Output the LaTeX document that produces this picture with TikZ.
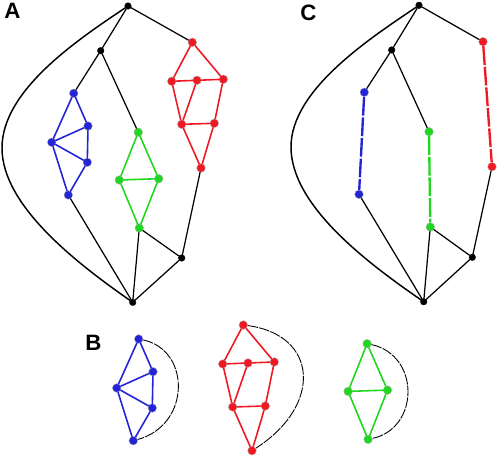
\documentclass[tikz,border=0pt]{standalone}
\usepackage{fontspec}
\setmainfont{Liberation Sans}
\definecolor{gblue}{RGB}{35,35,215}
\definecolor{gred}{RGB}{238,25,35}
\definecolor{ggreen}{RGB}{30,215,30}
\tikzset{
  vtx/.style={circle,inner sep=0pt,minimum size=0.26cm,draw=gray!60,line width=0.3pt},
  blk/.style={vtx,fill=black,draw=black,minimum size=0.2cm},
  bluev/.style={vtx,fill=gblue},
  redv/.style={vtx,fill=gred},
  greenv/.style={vtx,fill=ggreen},
  link/.style={line width=1.05pt,black},
  hull/.style={line width=1.25pt,black},
  blueedge/.style={line width=1.35pt,gblue},
  rededge/.style={line width=1.35pt,gred},
  greenedge/.style={line width=1.35pt,ggreen},
  split/.style={line width=2pt,line cap=butt,dash pattern=on 16pt off 1.6pt},
  fold/.style={line width=0.75pt,black,line cap=butt,dash pattern=on 9pt off 1pt},
  panel/.style={font=\fontsize{19}{19}\selectfont\bfseries,inner sep=0pt}
}
\begin{document}
\begin{tikzpicture}[x=0.03cm,y=-0.03cm,line cap=round,line join=round]
  \useasboundingbox (0,0) rectangle (498,457);
  % panel A
  \node[blk] (AT) at (128,6) {};
  \node[blk] (An) at (100.7,50.7) {};
  \node[blk] (Am) at (181.7,258) {};
  \node[blk] (AB) at (132.7,302.3) {};
  \node[bluev] (Ab1) at (73.7,93.3) {};
  \node[bluev] (Ab2) at (88,126) {};
  \node[bluev] (Ab3) at (51.7,142.3) {};
  \node[bluev] (Ab4) at (87.3,162.3) {};
  \node[bluev] (Ab5) at (68.3,195) {};
  \node[greenv] (Ag1) at (138.3,132.3) {};
  \node[greenv] (Ag2) at (119.3,180) {};
  \node[greenv] (Ag3) at (158.7,178.7) {};
  \node[greenv] (Ag4) at (139.3,228) {};
  \node[redv] (Ar1) at (192.3,42.3) {};
  \node[redv] (Ar2) at (171.7,81.3) {};
  \node[redv] (Ar3) at (197,80.3) {};
  \node[redv] (Ar4) at (223.3,79.3) {};
  \node[redv] (Ar5) at (181.7,124.3) {};
  \node[redv] (Ar6) at (214.3,123.3) {};
  \node[redv] (Ar7) at (201,168) {};
  \draw[hull] (AT) .. controls (78,39.6) and (2,90) .. (2,148)
    .. controls (2,205) and (75,262) .. (AB);
  \draw[link] (AT) -- (An);
  \draw[link] (AT) -- (Ar1);
  \draw[link] (An) -- (Ab1);
  \draw[link] (An) -- (Ag1);
  \draw[link] (Ab5) -- (AB);
  \draw[link] (Ag4) -- (AB);
  \draw[link] (Ag4) -- (Am);
  \draw[link] (Am) -- (AB);
  \draw[link] (Ar7) -- (Am);
  \draw[blueedge] (Ab1) -- (Ab2) -- (Ab4) -- (Ab5) -- (Ab3) -- (Ab1);
  \draw[blueedge] (Ab3) -- (Ab2);
  \draw[blueedge] (Ab3) -- (Ab4);
  \draw[greenedge] (Ag1) -- (Ag3) -- (Ag4) -- (Ag2) -- (Ag1);
  \draw[greenedge] (Ag2) -- (Ag3);
  \draw[rededge] (Ar1) -- (Ar4) -- (Ar6) -- (Ar7) -- (Ar5) -- (Ar2) -- (Ar1);
  \draw[rededge] (Ar2) -- (Ar3) -- (Ar4);
  \draw[rededge] (Ar3) -- (Ar5) -- (Ar6);
  \node[panel] (labA) at (12.5,11) {A};
  % panel C
  \node[blk] (CT) at (419,5.3) {};
  \node[blk] (Cn) at (391.7,50) {};
  \node[blk] (Cm) at (472.3,257.3) {};
  \node[blk] (CB) at (423.7,301.7) {};
  \node[bluev] (Cb1) at (364.3,92.3) {};
  \node[bluev] (Cb5) at (359,194.3) {};
  \node[greenv] (Cg1) at (429,131.7) {};
  \node[greenv] (Cg4) at (430.3,227) {};
  \node[redv] (Cr1) at (483,41.7) {};
  \node[redv] (Cr7) at (492,166.7) {};
  \draw[hull] (CT) .. controls (369,39) and (291,90) .. (291,147)
    .. controls (291,205) and (366,262) .. (CB);
  \draw[link] (CT) -- (Cn);
  \draw[link] (CT) -- (Cr1);
  \draw[link] (Cn) -- (Cb1);
  \draw[link] (Cn) -- (Cg1);
  \draw[link] (Cb5) -- (CB);
  \draw[link] (Cg4) -- (CB);
  \draw[link] (Cg4) -- (Cm);
  \draw[link] (Cm) -- (CB);
  \draw[link] (Cr7) -- (Cm);
  \draw[split,gblue] (Cb1) -- (Cb5);
  \draw[split,ggreen] (Cg1) -- (Cg4);
  \draw[split,gred] (Cr1) -- (Cr7);
  \node[panel] (labC) at (308.5,12.5) {C};
  % panel B
  \begin{scope}[shift={(65,245.7)}]
    \node[bluev] (Bb1) at (73.7,93.3) {};
    \node[bluev] (Bb2) at (88,126) {};
    \node[bluev] (Bb3) at (51.7,142.3) {};
    \node[bluev] (Bb4) at (87.3,162.3) {};
    \node[bluev] (Bb5) at (68.3,195) {};
  \end{scope}
  \begin{scope}[shift={(228.8,211.4)}]
    \node[greenv] (Bg1) at (138.3,132.3) {};
    \node[greenv] (Bg2) at (119.3,180) {};
    \node[greenv] (Bg3) at (158.7,178.7) {};
    \node[greenv] (Bg4) at (139.3,228) {};
  \end{scope}
  \begin{scope}[shift={(51,282.7)}]
    \node[redv] (Br1) at (192.3,42.3) {};
    \node[redv] (Br2) at (171.7,81.3) {};
    \node[redv] (Br3) at (197,80.3) {};
    \node[redv] (Br4) at (223.3,79.3) {};
    \node[redv] (Br5) at (181.7,124.3) {};
    \node[redv] (Br6) at (214.3,123.3) {};
    \node[redv] (Br7) at (201,168) {};
  \end{scope}
  \draw[blueedge] (Bb1) -- (Bb2) -- (Bb4) -- (Bb5) -- (Bb3) -- (Bb1);
  \draw[blueedge] (Bb3) -- (Bb2);
  \draw[blueedge] (Bb3) -- (Bb4);
  \draw[greenedge] (Bg1) -- (Bg3) -- (Bg4) -- (Bg2) -- (Bg1);
  \draw[greenedge] (Bg2) -- (Bg3);
  \draw[rededge] (Br1) -- (Br4) -- (Br6) -- (Br7) -- (Br5) -- (Br2) -- (Br1);
  \draw[rededge] (Br2) -- (Br3) -- (Br4);
  \draw[rededge] (Br3) -- (Br5) -- (Br6);
  \draw[fold] (Bb1) .. controls (191,350) and (191,425) .. (Bb5);
  \draw[fold] (Br1) .. controls (318,335) and (323,405) .. (Br7);
  \draw[fold] (Bg1) .. controls (420,355) and (420,428) .. (Bg4);
  \node[panel] (labB) at (93.5,342.5) {B};
\end{tikzpicture}
\end{document}
